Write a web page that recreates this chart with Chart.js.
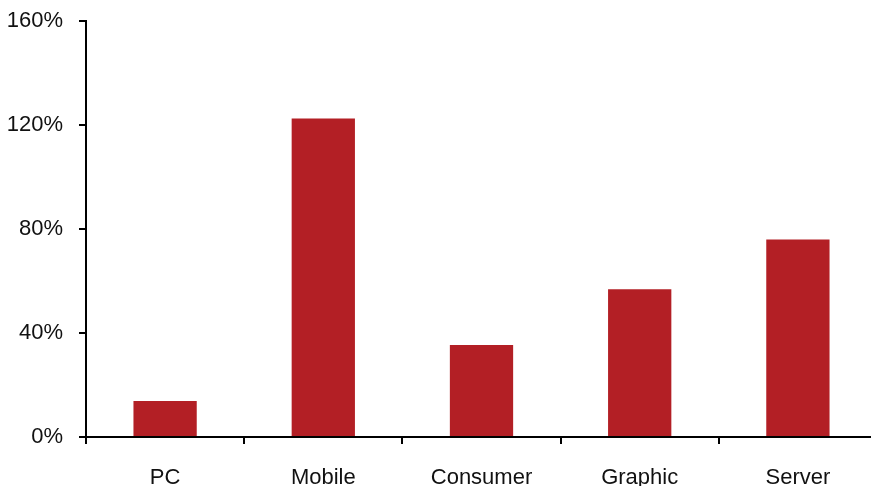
<!DOCTYPE html>
<html>
<head>
<meta charset="utf-8">
<script src="https://cdn.jsdelivr.net/npm/chart.js@4"></script>
<style>
  html, body { margin: 0; padding: 0; background: #fff; overflow: hidden; width: 871px; height: 486px; }
  #wrap { width: 877px; height: 486px; }
</style>
</head>
<body>
<div id="wrap"><canvas id="chart" width="877" height="486"></canvas></div>
<script>
// Growth by segment
const categories = ['PC', 'Mobile', 'Consumer', 'Graphic', 'Server'];
const growth = [13.8, 122.5, 35.4, 56.8, 76.0];
const yTicks = [0, 40, 80, 120, 160];

const barColor = '#B31F25';
const fontFamily = '"Liberation Sans", Arial, Helvetica, sans-serif';

new Chart(document.getElementById('chart'), {
  type: 'bar',
  data: {
    labels: categories,
    datasets: [{
      data: growth,
      backgroundColor: barColor,
      borderWidth: 0,
      barPercentage: 0.4,
      categoryPercentage: 1.0
    }]
  },
  options: {
    responsive: false,
    animation: false,
    layout: { padding: { top: 21, left: 0, right: 0, bottom: 0 } },
    plugins: { legend: { display: false }, tooltip: { enabled: false } },
    scales: {
      x: {
        offset: true,
        grid: {
          display: true,
          offset: true,
          drawOnChartArea: false,
          drawTicks: true,
          tickLength: 7,
          color: '#000',
          lineWidth: 2
        },
        border: { display: true, color: '#000', width: 2 },
        ticks: {
          color: '#111',
          padding: 21,
          font: { family: fontFamily, size: 22 }
        },
        afterFit: (scale) => {
          scale.height = 49;
          scale.paddingLeft = 0;
          scale.paddingRight = 0;
        }
      },
      y: {
        min: 0,
        max: 160,
        afterBuildTicks: (scale) => { scale.ticks = yTicks.map(v => ({ value: v })); },
        grid: {
          display: true,
          drawOnChartArea: false,
          drawTicks: true,
          tickLength: 7,
          color: '#000',
          lineWidth: 2
        },
        border: { display: true, color: '#000', width: 2 },
        ticks: {
          color: '#111',
          padding: 16,
          font: { family: fontFamily, size: 22 },
          callback: (v) => v + '%'
        },
        afterFit: (scale) => {
          scale.width = 86;
          scale.paddingTop = 0;
          scale.paddingBottom = 0;
        }
      }
    }
  }
});
</script>
</body>
</html>
